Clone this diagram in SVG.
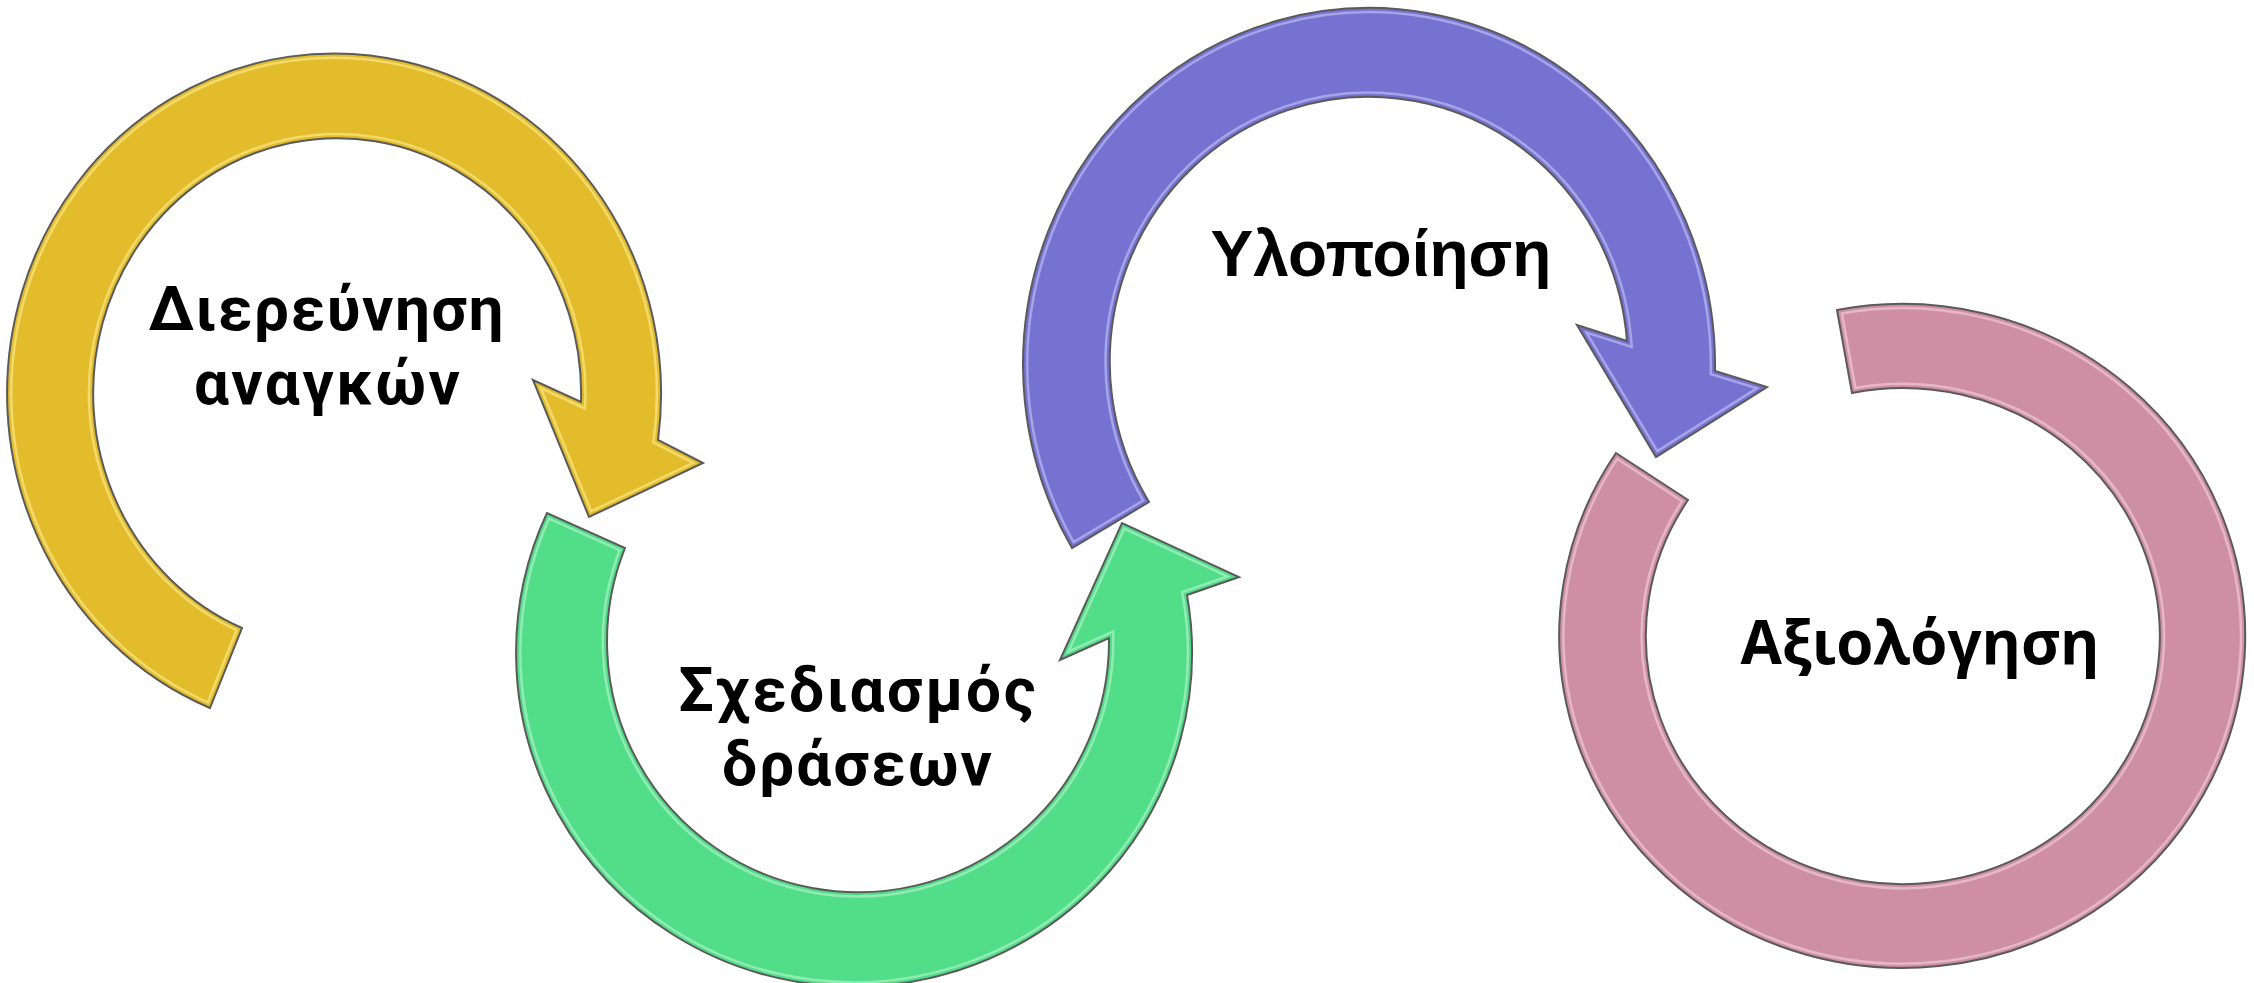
<svg xmlns="http://www.w3.org/2000/svg" width="2254" height="983" viewBox="0 0 2254 983">
<defs>
<style>
.shape{stroke:#5a5a5a;stroke-width:2;stroke-linejoin:miter}
.hl{fill:none;stroke-width:11;stroke-opacity:0.55}
.base{fill:none;stroke-width:6}
.lbl{font-family:"Open Sans","Liberation Sans",sans-serif;font-weight:bold;font-size:60px;fill:#000;text-anchor:middle}
.lblr{font-family:Roboto,"Open Sans","Liberation Sans",sans-serif;font-weight:bold;font-size:62px;fill:#000;text-anchor:middle}
.lbl2{font-family:"Liberation Sans",Arial,sans-serif;font-weight:bold;font-size:64px;fill:#000;text-anchor:middle}
</style>
<path id="pY" d="M210,708 A327,340 0 1 1 658,440 L703,463 L589,517 L533,380 L581,402 A244,255 0 1 0 242,628 Z"/>
<path id="pG" d="M547,513 A338,334 0 1 0 1187,595 L1239,577 L1122,523 L1060,660 L1109,638 A251,251 0 1 1 625,548 Z"/>
<path id="pP" d="M1072,548 A346,357 0 1 1 1715,371 L1767,387 L1656,457 L1577,325 L1627,341 A259,265 0 1 0 1149,502 Z"/>
<path id="pK" d="M1837,310 A343,332 0 1 1 1616,453 L1688,500 A257,248 0 1 0 1852,393 Z"/>
<clipPath id="cY"><use href="#pY"/></clipPath>
<clipPath id="cG"><use href="#pG"/></clipPath>
<clipPath id="cP"><use href="#pP"/></clipPath>
<clipPath id="cK"><use href="#pK"/></clipPath>
</defs>
<rect width="2254" height="983" fill="#ffffff"/>
<g id="connectors"></g>
<g id="node-dierevnisi">
<use href="#pY" fill="#E3BC2B"/>
<g clip-path="url(#cY)"><use href="#pY" class="hl" stroke="#fff3a0"/><use href="#pY" class="base" stroke="#E3BC2B"/></g>
<use href="#pY" fill="none" class="shape"/>
<text class="lblr" x="326" y="330" textLength="355">Διερεύνηση</text>
<text class="lblr" x="327" y="404" textLength="266">αναγκών</text>
</g>
<g id="node-schediasmos">
<use href="#pG" fill="#52DD88"/>
<g clip-path="url(#cG)"><use href="#pG" class="hl" stroke="#c4f7d8"/><use href="#pG" class="base" stroke="#52DD88"/></g>
<use href="#pG" fill="none" class="shape"/>
<text class="lblr" x="857" y="711" textLength="357">Σχεδιασμός</text>
<text class="lblr" x="857" y="785" textLength="270">δράσεων</text>
</g>
<g id="node-ylopoiisi">
<use href="#pP" fill="#7572D2"/>
<g clip-path="url(#cP)"><use href="#pP" class="hl" stroke="#cfcdfa"/><use href="#pP" class="base" stroke="#7572D2"/></g>
<use href="#pP" fill="none" class="shape"/>
<text class="lbl2" x="1381" y="276">Υλοποίηση</text>
</g>
<g id="node-axiologisi">
<use href="#pK" fill="#CE8FA5"/>
<g clip-path="url(#cK)"><use href="#pK" class="hl" stroke="#f9d9e4"/><use href="#pK" class="base" stroke="#CE8FA5"/></g>
<use href="#pK" fill="none" class="shape"/>
<text class="lbl" x="1920" y="664">Αξιολόγηση</text>
</g>
</svg>
